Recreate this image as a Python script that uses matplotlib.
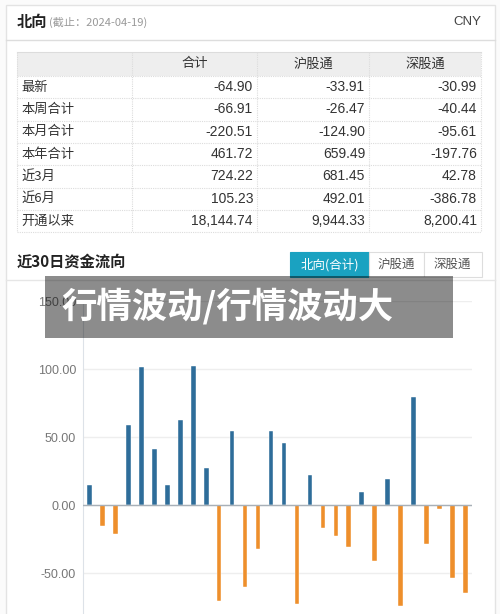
import matplotlib
matplotlib.use('Agg')
import matplotlib.pyplot as plt
from matplotlib.patches import Rectangle

plt.rcParams['font.family'] = ['Noto Sans CJK SC', 'DejaVu Sans']

# summary table
row_labels = ['最新', '本周合计', '本月合计', '本年合计', '近3月', '近6月', '开通以来']
col_labels = ['合计', '沪股通', '深股通']
total = [-64.90, -66.91, -220.51, 461.72, 724.22, 105.23, 18144.74]
sh = [-33.91, -26.47, -124.90, 659.49, 681.45, 492.01, 9944.33]
sz = [-30.99, -40.44, -95.61, -197.76, 42.78, -386.78, 8200.41]

# last 30 days northbound flow
flows = [14.7, -15.2, -21.3, 58.8, 101.7, 41.4, 14.7, 63.0, 102.2, 27.4,
         -70.4, 54.6, -60.0, -31.9, 54.6, 46.1, -72.3, 22.3, -16.7, -22.8,
         -30.6, 9.6, -41.2, 19.6, -74.0, 79.7, -28.2, -2.5, -53.2, -64.9]
yticks = [-50, 0, 50, 100, 150]
tabs = ['北向(合计)', '沪股通', '深股通']

W, H = 500, 614
fig = plt.figure(figsize=(W / 100, H / 100), dpi=100)
fig.patch.set_facecolor('#fbfbfb')

# page layer in pixel coords
bg = fig.add_axes([0, 0, 1, 1])
bg.set_xlim(0, W)
bg.set_ylim(H, 0)
bg.axis('off')

bg.add_patch(Rectangle((5.5, 5), 489, 620, facecolor='white', edgecolor='#e3e3e3', lw=1))
bg.plot([5.5, 494.5], [39.5, 39.5], color='#dddddd', lw=1)

bg.text(17, 22, '北向', fontsize=11, fontweight='bold', color='#222222', va='center')
bg.text(49, 22.5, '(截止：2024-04-19)', fontsize=8, color='#999999', va='center')
bg.text(481, 22, 'CNY', fontsize=9.5, color='#444444', va='center', ha='right',
        family=['Liberation Sans', 'DejaVu Sans'])

# table
tx = [17, 131.5, 257, 369, 481]
ty0, th, rh = 52, 24, 22.33
bg.add_patch(Rectangle((tx[0], ty0), tx[-1] - tx[0], th, facecolor='#eeeeee', edgecolor='none'))
for j, c in enumerate(col_labels):
    bg.text((tx[j + 1] + tx[j + 2]) / 2, ty0 + th / 2, c, fontsize=9.5, color='#333333',
            ha='center', va='center')
cols = [total, sh, sz]
for i, lab in enumerate(row_labels):
    yc = ty0 + th + rh * i + rh / 2
    bg.text(tx[0] + 4, yc, lab, fontsize=9.5, color='#333333', va='center')
    for j in range(3):
        bg.text(tx[j + 2] - 4, yc, f'{cols[j][i]:,.2f}', fontsize=10, color='#333333',
                ha='right', va='center', family=['Liberation Sans', 'DejaVu Sans'])
ybot = ty0 + th + rh * len(row_labels)
for i in range(len(row_labels) + 1):
    yy = ty0 + th + rh * i
    bg.plot([tx[0], tx[-1]], [yy, yy], color='#dcdcdc', lw=0.8, ls=(0, (1, 1)))
bg.plot([tx[0], tx[-1]], [ty0, ty0], color='#dcdcdc', lw=0.8)
for x in tx:
    bg.plot([x, x], [ty0, ybot], color='#dcdcdc', lw=0.8, ls=(0, (1, 1)))

# section title and tabs
bg.text(17, 262, '近30日资金流向', fontsize=11, fontweight='bold', color='#222222', va='center')
tab_x = [290, 369, 424, 481.5]
for k, t in enumerate(tabs):
    active = k == 0
    bg.add_patch(Rectangle((tab_x[k], 252), tab_x[k + 1] - tab_x[k], 25,
                           facecolor='#1aa2c1' if active else 'white',
                           edgecolor='#1aa2c1' if active else '#dddddd', lw=0.8))
    bg.text((tab_x[k] + tab_x[k + 1]) / 2, 264.5, t, fontsize=9,
            color='white' if active else '#555555', ha='center', va='center')
bg.plot([5.5, 494.5], [279.5, 279.5], color='#e6e6e6', lw=1)

# bar chart
y_top, y_bot = 301.3, 614
ax = fig.add_axes([83 / W, 1 - y_bot / H, (472 - 83) / W, (y_bot - y_top) / H])
ax.set_facecolor('none')
xs = range(len(flows))
colors = ['#2e6d9a' if v > 0 else '#ee8f2c' for v in flows]
ax.bar(xs, flows, width=0.36, color=colors, edgecolor='white', linewidth=0.3, zorder=3)
ax.set_xlim(-0.5, len(flows) - 0.5)
ax.set_ylim(-80, 150)
ax.set_yticks(yticks)
ax.set_yticklabels([f'{v:.2f}' for v in yticks], family=['Liberation Sans', 'DejaVu Sans'])
ax.tick_params(axis='y', length=0, pad=5, labelsize=9, labelcolor='#777777')
ax.set_xticks([])
ax.grid(axis='y', color='#eeeeee', lw=1, zorder=0)
ax.axhline(0, color='#a8b0b8', lw=1, zorder=4)
for s in ['top', 'right', 'bottom']:
    ax.spines[s].set_visible(False)
ax.spines['left'].set_color('#dde2e8')

# overlay banner (semi-transparent, the chart shows through a little)
ov = fig.add_axes([0, 0, 1, 1])
ov.set_xlim(0, W)
ov.set_ylim(H, 0)
ov.axis('off')
ov.add_patch(Rectangle((45, 276), 408, 62, facecolor='black', alpha=0.45, edgecolor='none'))
ov.text(61, 306, '行情波动/行情波动大', fontsize=25.5, fontweight='heavy', color='white',
        va='center')

fig.savefig('out.png', dpi=100)
